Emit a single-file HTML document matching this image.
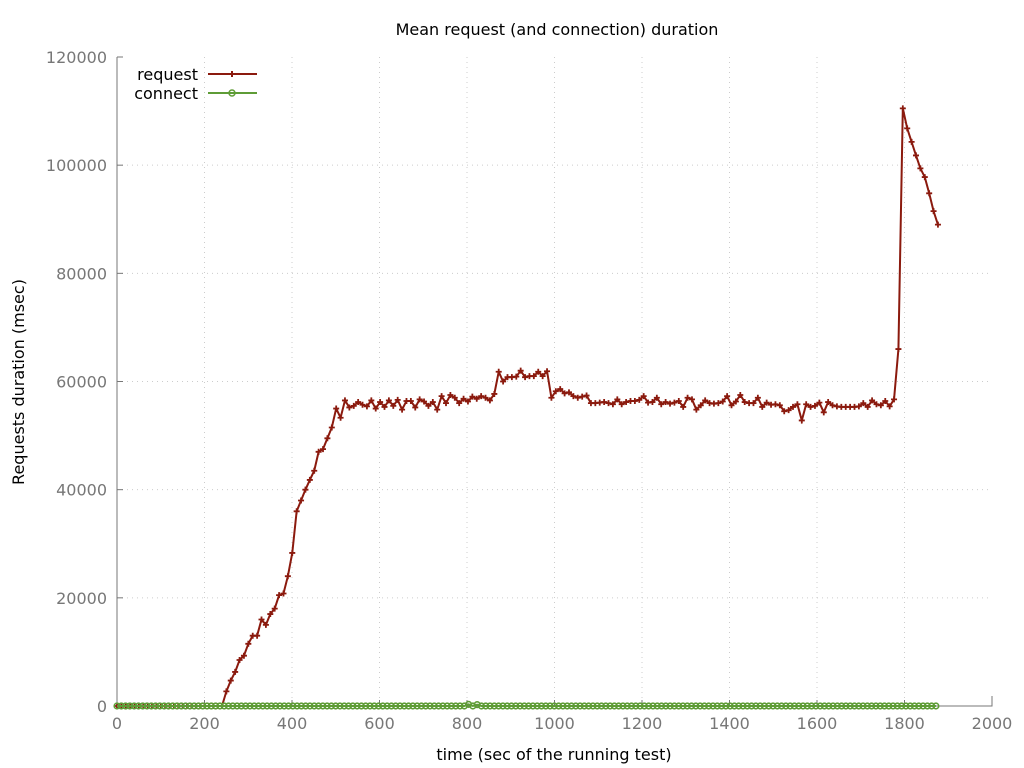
<!DOCTYPE html>
<html><head><meta charset="utf-8"><style>
body{margin:0;background:#fff;}
svg{display:block;font-family:"DejaVu Sans","Liberation Sans",sans-serif;}
</style></head><body>
<svg id="chart" width="1024" height="768">
<text x="557" y="35" text-anchor="middle" font-size="16" fill="#000">Mean request (and connection) duration</text>
<text x="554" y="760" text-anchor="middle" font-size="16" fill="#000">time (sec of the running test)</text>
<text transform="translate(24,382) rotate(-90)" text-anchor="middle" font-size="16" fill="#000">Requests duration (msec)</text>
<g id="grid"></g>
<g id="axes"></g>
<g id="series"></g>
<g>
<text x="198" y="80" text-anchor="end" font-size="16">request</text>
<line x1="208" y1="74" x2="257" y2="74" stroke="#8b1a0e" stroke-width="2"/>
<path d="M229,74h6M232,71v6" stroke="#8b1a0e" stroke-width="2"/>
<text x="198" y="99" text-anchor="end" font-size="16">connect</text>
<line x1="208" y1="93" x2="257" y2="93" stroke="#5e9c36" stroke-width="2"/>
<circle cx="232" cy="93" r="3" fill="none" stroke="#5e9c36" stroke-width="1.5"/>
</g>
</svg>
<script>
const xTicks=[0,200,400,600,800,1000,1200,1400,1600,1800,2000];
const yTicks=[0,20000,40000,60000,80000,100000,120000];
const reqStart=250;
const reqStep=10.04;
const reqValues=[2700,4700,6300,8500,9300,11500,13000,13000,16000,15000,17000,18000,20500,20800,24000,28300,36000,38000,40000,41800,43500,47000,47500,49500,51500,55000,53300,56500,55200,55500,56200,55700,55400,56500,55000,56200,55300,56500,55500,56600,54800,56400,56400,55200,56700,56300,55500,56200,54800,57300,56000,57500,57000,56000,56800,56300,57200,56800,57300,57000,56500,57700,61800,60000,60800,60800,60900,62000,60800,61000,61000,61800,61000,61900,57000,58200,58600,57800,58000,57300,57000,57200,57400,56000,56000,56100,56200,56000,55800,56700,55800,56200,56400,56400,56600,57300,56100,56200,57000,55800,56200,55900,56100,56400,55300,57000,56700,54800,55600,56500,56000,55900,56000,56300,57300,55600,56300,57500,56200,56000,56000,57000,55300,56100,55700,55800,55600,54500,54700,55300,55800,52800,55800,55300,55500,56100,54300,56200,55600,55400,55300,55300,55300,55300,55400,56000,55300,56500,55800,55600,56400,55400,56700,66000,110500,106800,104300,101800,99400,97800,94800,91500,89000];
const connTimes=[0,1875];
const connBump=[[800,300],[820,250]];
const X=t=>117+t*875/2000, Y=v=>706-v*649/120000;
const NS="http://www.w3.org/2000/svg";
function mk(tag,attrs,parent){const e=document.createElementNS(NS,tag);for(const k in attrs)e.setAttribute(k,attrs[k]);parent.appendChild(e);return e;}
const grid=document.getElementById('grid'),axes=document.getElementById('axes'),series=document.getElementById('series');
xTicks.forEach(t=>{if(t>0&&t<2000){const l=mk('line',{x1:X(t),x2:X(t),y1:57,y2:706,stroke:'#ccc','stroke-dasharray':'1,4'},grid);

}
const tx=mk('text',{x:X(t),y:729,'text-anchor':'middle','font-size':16,fill:'#777'},axes);tx.textContent=t;


mk('line',{x1:X(t),x2:X(t),y1:706,y2:700,stroke:'#777'},axes);});
yTicks.forEach(v=>{if(v>0&&v<120000){const l=mk('line',{x1:117,x2:992,y1:Y(v),y2:Y(v),stroke:'#ccc','stroke-dasharray':'1,4'},grid);

}
const tx=mk('text',{x:107,y:Y(v)+6,'text-anchor':'end','font-size':16,fill:'#777'},axes);tx.textContent=v;


mk('line',{x1:117,x2:123,y1:Y(v),y2:Y(v),stroke:'#777'},axes);});
const frame=mk('path',{d:'M117,57V706H992V696',fill:'none',stroke:'#777'},axes);


const req=[];for(let t=0;t<reqStart;t+=10)req.push([t,0]);reqValues.forEach((v,i)=>req.push([reqStart+i*reqStep,v]));
const conn=[];for(let t=connTimes[0];t<=connTimes[1];t+=9.8){let v=0;connBump.forEach(b=>{if(Math.abs(b[0]-t)<5)v=b[1];});conn.push([t,v]);}
function draw(data,color,name,marker){
const p=mk('polyline',{points:data.map(d=>X(d[0])+','+Y(d[1])).join(' '),fill:'none',stroke:color,'stroke-width':2},series);


data.forEach(d=>{const x=X(d[0]),y=Y(d[1]);let m;
if(marker==='plus')m=mk('path',{d:`M${x-3},${y}h6M${x},${y-3}v6`,stroke:color,'stroke-width':1.8},series);
else m=mk('circle',{cx:x,cy:y,r:2.8,fill:'none',stroke:color,'stroke-width':1.6},series);

});}
draw(req,'#8b1a0e','request','plus');
draw(conn,'#5e9c36','connect','circle');
</script>
</body></html>
